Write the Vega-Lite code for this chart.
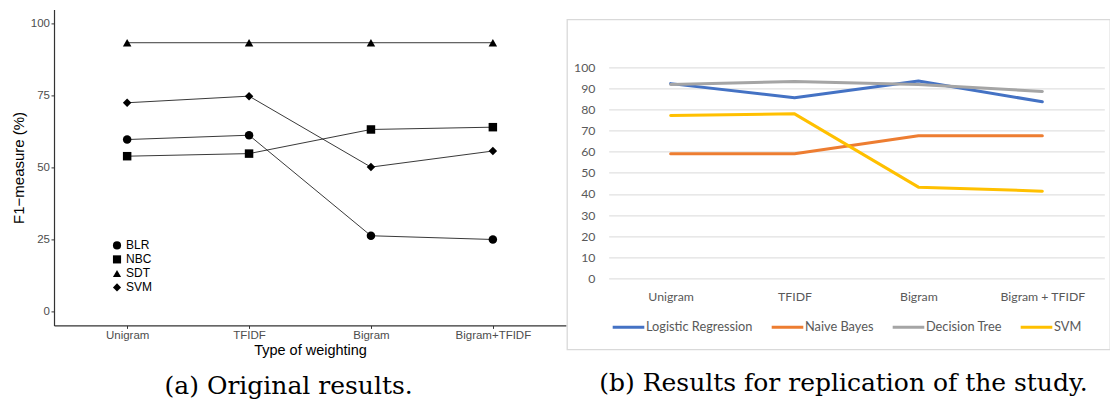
{
  "$schema": "https://vega.github.io/schema/vega-lite/v6.json",
  "padding": {"left": 11, "top": 9.4, "right": 0, "bottom": 0},
  "spacing": 0,
  "resolve": {"legend": {"color": "independent", "shape": "independent"}, "scale": {"color": "independent", "shape": "independent"}},
  "datasets": {
    "orig": [
      {"model": "BLR", "weighting": "Unigram", "f1": 59.7},
      {"model": "BLR", "weighting": "TFIDF", "f1": 61.2},
      {"model": "BLR", "weighting": "Bigram", "f1": 26.2},
      {"model": "BLR", "weighting": "Bigram+TFIDF", "f1": 24.9},
      {"model": "NBC", "weighting": "Unigram", "f1": 53.9},
      {"model": "NBC", "weighting": "TFIDF", "f1": 54.8},
      {"model": "NBC", "weighting": "Bigram", "f1": 63.2},
      {"model": "NBC", "weighting": "Bigram+TFIDF", "f1": 64.0},
      {"model": "SDT", "weighting": "Unigram", "f1": 93.4},
      {"model": "SDT", "weighting": "TFIDF", "f1": 93.4},
      {"model": "SDT", "weighting": "Bigram", "f1": 93.4},
      {"model": "SDT", "weighting": "Bigram+TFIDF", "f1": 93.4},
      {"model": "SVM", "weighting": "Unigram", "f1": 72.5},
      {"model": "SVM", "weighting": "TFIDF", "f1": 74.8},
      {"model": "SVM", "weighting": "Bigram", "f1": 50.1},
      {"model": "SVM", "weighting": "Bigram+TFIDF", "f1": 55.7}
    ],
    "repl": [
      {"model": "Logistic Regression", "ngram": "Unigram", "f1": 92.2},
      {"model": "Logistic Regression", "ngram": "TFIDF", "f1": 85.5},
      {"model": "Logistic Regression", "ngram": "Bigram", "f1": 93.4},
      {"model": "Logistic Regression", "ngram": "Bigram + TFIDF", "f1": 83.6},
      {"model": "Naive Bayes", "ngram": "Unigram", "f1": 59.0},
      {"model": "Naive Bayes", "ngram": "TFIDF", "f1": 59.0},
      {"model": "Naive Bayes", "ngram": "Bigram", "f1": 67.5},
      {"model": "Naive Bayes", "ngram": "Bigram + TFIDF", "f1": 67.5},
      {"model": "Decision Tree", "ngram": "Unigram", "f1": 91.8},
      {"model": "Decision Tree", "ngram": "TFIDF", "f1": 93.2},
      {"model": "Decision Tree", "ngram": "Bigram", "f1": 91.8},
      {"model": "Decision Tree", "ngram": "Bigram + TFIDF", "f1": 88.5},
      {"model": "SVM", "ngram": "Unigram", "f1": 77.1},
      {"model": "SVM", "ngram": "TFIDF", "f1": 77.9},
      {"model": "SVM", "ngram": "Bigram", "f1": 43.2},
      {"model": "SVM", "ngram": "Bigram + TFIDF", "f1": 41.3}
    ]
  },
  "hconcat": [
    {
      "width": 512,
      "height": 316,
      "data": {"name": "orig"},
      "title": {"text": "(a) Original results.", "orient": "bottom", "frame": "bounds", "font": "DejaVu Serif", "fontSize": 25, "fontWeight": "normal", "color": "black", "offset": 17},
      "encoding": {
        "x": {"field": "weighting", "type": "ordinal", "sort": ["Unigram", "TFIDF", "Bigram", "Bigram+TFIDF"],
          "scale": {"type": "point", "padding": 0.6},
          "axis": {"title": "Type of weighting", "labelAngle": 0, "grid": false, "domainColor": "#333333", "domainWidth": 1.2, "tickColor": "#333333", "tickSize": 3, "labelPadding": 1.5, "labelColor": "#4d4d4d", "labelFont": "Liberation Sans", "labelFontSize": 11.5, "titleFont": "Liberation Sans", "titleFontSize": 14.5, "titleFontWeight": "normal", "titleColor": "black", "titlePadding": 2}},
        "y": {"field": "f1", "type": "quantitative",
          "scale": {"domain": [-5, 105], "nice": false, "zero": false},
          "axis": {"title": "F1−measure (%)", "values": [0, 25, 50, 75, 100], "grid": false, "domainColor": "#333333", "domainWidth": 1.2, "tickColor": "#333333", "tickSize": 3, "labelPadding": 1.5, "labelColor": "#4d4d4d", "labelFont": "Liberation Sans", "labelFontSize": 11.5, "titleFont": "Liberation Sans", "titleFontSize": 15, "titleFontWeight": "normal", "titleColor": "black", "titlePadding": 4}}
      },
      "layer": [
        {"mark": {"type": "line", "color": "#222222", "strokeWidth": 0.9}, "encoding": {"detail": {"field": "model"}}},
        {"mark": {"type": "point", "filled": true, "opacity": 1, "color": "black", "size": 72},
          "encoding": {"shape": {"field": "model", "type": "nominal",
            "scale": {"domain": ["BLR", "NBC", "SDT", "SVM"], "range": ["circle", "square", "triangle-up", "diamond"]},
            "legend": {"title": null, "orient": "none", "legendX": 57, "legendY": 230, "padding": 0, "rowPadding": 2, "labelOffset": 3, "symbolSize": 66, "symbolFillColor": "black", "symbolStrokeColor": "black", "symbolStrokeWidth": 0, "labelFont": "Liberation Sans", "labelFontSize": 12, "labelColor": "black"}}}}
      ]
    },
    {
      "spacing": 0,
      "resolve": {"legend": {"color": "independent"}, "scale": {"color": "independent"}},
      "vconcat": [
        {"width": 543, "height": 8.9, "data": {"values": []}, "mark": "text", "encoding": {}},
        {
          "width": 543,
          "height": 330,
          "data": {"name": "repl"},
          "view": {"stroke": "#d9d9d9", "strokeWidth": 1.3},
          "title": {"text": "(b) Results for replication of the study.", "orient": "bottom", "font": "DejaVu Serif", "fontSize": 25, "fontWeight": "normal", "color": "black", "offset": 22, "dx": 5},
          "mark": {"type": "line", "strokeWidth": 3, "strokeCap": "round", "strokeJoin": "round"},
          "encoding": {
            "x": {"field": "ngram", "type": "ordinal", "sort": ["Unigram", "TFIDF", "Bigram", "Bigram + TFIDF"],
              "scale": {"type": "point", "padding": 0.5, "range": [41.7, 537.3]},
              "axis": {"title": null, "labelAngle": 0, "domain": false, "ticks": false, "grid": false, "offset": -59, "labelPadding": 0, "labelColor": "#595959", "labelFont": "Lato", "labelFontSize": 12.3}},
            "y": {"field": "f1", "type": "quantitative",
              "scale": {"domain": [-33.6, 122.6], "nice": false, "zero": false},
              "axis": {"title": null, "values": [0, 10, 20, 30, 40, 50, 60, 70, 80, 90, 100], "grid": true, "gridColor": "#d9d9d9", "gridWidth": 1, "domain": false, "ticks": false, "offset": -30, "labelPadding": 2, "labelColor": "#595959", "labelFont": "Lato", "labelFontSize": 12.3}},
            "color": {"field": "model", "type": "nominal",
              "scale": {"domain": ["Logistic Regression", "Naive Bayes", "Decision Tree", "SVM"], "range": ["#4472c4", "#ed7d31", "#a5a5a5", "#ffc000"]},
              "legend": {"title": null, "orient": "none", "direction": "horizontal", "legendX": 44, "legendY": 290, "padding": 0, "symbolType": "stroke", "symbolSize": 1000, "symbolStrokeWidth": 3, "labelOffset": 0, "columnPadding": 12, "labelFont": "Lato", "labelFontSize": 12.8, "labelColor": "#595959"}},
            "order": {"field": "model", "sort": "ascending"}
          }
        }
      ]
    }
  ],
  "config": {"view": {"stroke": null}, "font": "Liberation Sans"}
}
